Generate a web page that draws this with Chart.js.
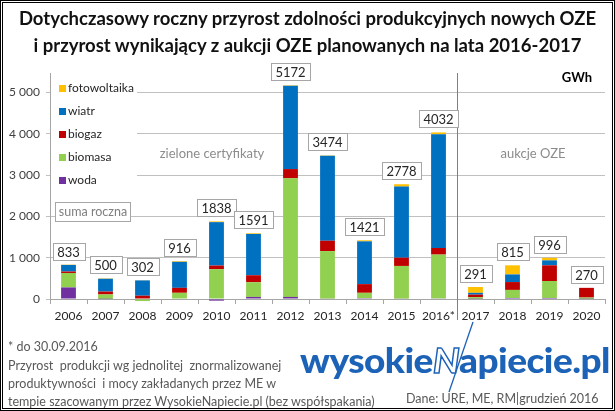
<!DOCTYPE html>
<html lang="pl">
<head>
<meta charset="utf-8">
<title>Przyrost OZE</title>
<script src="https://cdn.jsdelivr.net/npm/chart.js@4.4.0/dist/chart.umd.min.js"></script>
<style>
  html, body { margin: 0; padding: 0; background: #fff; }
  #wrap { position: relative; width: 615px; height: 411px; overflow: hidden; font-family: Lato, "Open Sans", sans-serif; }
  #chart { position: absolute; left: 0; top: 0; }
  .title { position: absolute; left: 0; width: 615px; text-align: center; font-weight: bold; font-size: 18.5px; line-height: 26px; color: #111; white-space: nowrap; }
  .note { position: absolute; left: 8px; font-size: 12.5px; line-height: 18px; color: #595959; white-space: nowrap; }
  #source { position: absolute; left: 406px; top: 390px; font-size: 12.5px; line-height: 18px; color: #595959; white-space: nowrap; }
  #logo { position: absolute; left: 300px; top: 339px; font-size: 35px; line-height: 40px; font-weight: 900; color: #1c62b6; white-space: nowrap; transform-origin: 0 0; letter-spacing: -0.5px; }
  #logo .n { color: #fff; -webkit-text-stroke: 1.4px #1c62b6; font-style: italic; }
  #bolt { position: absolute; left: 0; top: 0; }
  #frame { position: absolute; left: 0; top: 0; width: 615px; height: 411px; box-sizing: border-box; border: 3px double #000; pointer-events: none; }
</style>
</head>
<body>
<div id="wrap">
  <canvas id="chart" width="615" height="411"></canvas>
  <div class="title" style="top:5px">Dotychczasowy roczny przyrost zdolności produkcyjnych nowych OZE</div>
  <div class="title" style="top:32px">i przyrost wynikający z aukcji OZE planowanych na lata 2016-2017</div>
  <div class="note" style="top:338px">* do 30.09.2016</div>
  <div class="note" style="top:357px">Przyrost&nbsp; produkcji wg jednolitej&nbsp; znormalizowanej</div>
  <div class="note" style="top:375px">produktywności&nbsp; i mocy zakładanych przez ME w</div>
  <div class="note" style="top:393px">tempie szacowanym przez WysokieNapiecie.pl (bez współspakania)</div>
  <div id="source">Dane: URE, ME, RM|grudzień 2016</div>
  <div id="logo">wysokie<span class="n">N</span>apiecie.pl</div>
  <svg id="bolt" width="615" height="411"><line x1="473" y1="322" x2="449" y2="392" stroke="#1c62b6" stroke-width="1.3"/></svg>
  <div id="frame"></div>
</div>
<script>
// kategorie (lata)
const years = ['2006', '2007', '2008', '2009', '2010', '2011', '2012', '2013', '2014', '2015', '2016*', '2017', '2018', '2019', '2020'];

// przyrost wg technologii, GWh
const woda = [280, 5, 0, 0, -40, 50, 50, 10, 20, 10, 15, 5, 25, 25, 5];
const biomasa = [350, 105, -50, 150, 720, 355, 2870, 1150, 130, 790, 1060, 40, 195, 410, 30];
const biogaz = [35, 70, 80, 120, 90, 170, 225, 250, 210, 200, 160, 60, 190, 380, 235];
const wiatr = [160, 310, 370, 630, 1050, 1000, 2015, 2055, 1036, 1720, 2750, 45, 185, 120, 0];
const fotowoltaika = [8, 10, 5, 16, 18, 16, 12, 9, 25, 58, 47, 141, 220, 61, 0];

// suma roczna (etykiety)
const sumy = [833, 500, 302, 916, 1838, 1591, 5172, 3474, 1421, 2778, 4032, 291, 815, 996, 270];

// ticki osi Y
const yTicks = [0, 1000, 2000, 3000, 4000, 5000];

const FONT = 'Lato, "Open Sans", sans-serif';
const series = [woda, biomasa, biogaz, wiatr, fotowoltaika];

const overlay = {
    id: 'overlay',
    afterDatasetsDraw(chart) {
        const { ctx, chartArea: a, scales: { x, y } } = chart;
        ctx.save();

        // separator zielone certyfikaty / aukcje
        const xd = Math.round((x.getPixelForValue(10) + x.getPixelForValue(11)) / 2) + 0.5;
        ctx.strokeStyle = '#808080';
        ctx.lineWidth = 1;
        ctx.beginPath();
        ctx.moveTo(xd, a.top);
        ctx.lineTo(xd, 320);
        ctx.stroke();

        // legenda (biale tlo zaslania siatke)
        ctx.fillStyle = '#fff';
        ctx.fillRect(a.left + 1, a.top + 1, 86, 118);
        ctx.font = '12px ' + FONT;
        ctx.textAlign = 'left';
        ctx.textBaseline = 'middle';
        chart.data.datasets.slice().reverse().forEach((ds, k) => {
            const cy = 88 + k * 23.1;
            ctx.fillStyle = ds.backgroundColor;
            ctx.fillRect(59, Math.round(cy - 3.5), 7, 7);
            ctx.fillStyle = '#262626';
            ctx.fillText(ds.label, 68, cy);
        });

        // ramka "suma roczna"
        ctx.fillStyle = '#fff';
        ctx.fillRect(55, 202, 75, 19);
        ctx.strokeStyle = '#a6a6a6';
        ctx.strokeRect(55.5, 202.5, 75, 19);
        ctx.fillStyle = '#7f7f7f';
        ctx.font = '12.5px ' + FONT;
        ctx.textAlign = 'center';
        ctx.fillText('suma roczna', 93, 212);

        // opisy obszarow
        ctx.fillStyle = '#8c8c8c';
        ctx.font = '13px ' + FONT;
        ctx.fillText('zielone certyfikaty', 212, 154);
        ctx.fillText('aukcje OZE', 533, 154);
        ctx.fillStyle = '#000';
        ctx.font = 'bold 13px ' + FONT;
        ctx.fillText('GWh', 577, 78);

        // etykiety sum nad slupkami
        ctx.font = '13px ' + FONT;
        sumy.forEach((s, i) => {
            const top = series.reduce((acc, arr) => acc + Math.max(arr[i], 0), 0);
            const yp = y.getPixelForValue(top);
            const cx = x.getPixelForValue(i);
            const txt = String(s);
            const w = Math.round(ctx.measureText(txt).width + 9);
            const h = 17;
            const bx = Math.round(cx - w / 2) + 0.5;
            const by = Math.round(yp - 5 - h) + 0.5;
            ctx.fillStyle = '#fff';
            ctx.fillRect(bx, by, w, h);
            ctx.strokeStyle = '#a6a6a6';
            ctx.strokeRect(bx, by, w, h);
            ctx.fillStyle = '#262626';
            ctx.fillText(txt, cx, by + h / 2 + 0.5);
        });

        ctx.restore();
    }
};

function makeSet(label, data, color) {
    return {
        label: label,
        data: data,
        backgroundColor: color,
        borderWidth: 0,
        categoryPercentage: 1,
        barPercentage: 0.4,
        clip: false
    };
}

function initChart() {
    const ctx = document.getElementById('chart').getContext('2d');
    new Chart(ctx, {
        type: 'bar',
        data: {
            labels: years,
            datasets: [
                makeSet('woda', woda, '#7030A0'),
                makeSet('biomasa', biomasa, '#92D050'),
                makeSet('biogaz', biogaz, '#C00000'),
                makeSet('wiatr', wiatr, '#0070C0'),
                makeSet('fotowoltaika', fotowoltaika, '#FFC000')
            ]
        },
        options: {
            responsive: false,
            animation: false,
            devicePixelRatio: 1,
            layout: { padding: { left: 0, right: 10, top: 73, bottom: 0 } },
            plugins: { legend: { display: false }, title: { display: false }, tooltip: { enabled: false } },
            scales: {
                x: {
                    stacked: true,
                    afterFit: s => { s.height = 112; },
                    grid: { offset: true, drawOnChartArea: false, drawTicks: true, tickLength: 5, color: '#a6a6a6' },
                    border: { color: '#a6a6a6' },
                    ticks: { color: '#262626', font: { family: FONT, size: 12 }, padding: 5, maxRotation: 0, autoSkip: false }
                },
                y: {
                    stacked: true,
                    min: 0,
                    max: 5470,
                    afterFit: s => { s.width = 50; },
                    afterBuildTicks: s => { s.ticks = yTicks.map(v => ({ value: v })); },
                    grid: { color: '#c0c0c0', tickLength: 4 },
                    border: { color: '#a6a6a6' },
                    ticks: {
                        color: '#404040',
                        font: { family: FONT, size: 12 },
                        padding: 6,
                        callback: v => v === 0 ? '0' : String(v).replace(/\B(?=(\d{3})+(?!\d))/g, ' ')
                    }
                }
            }
        },
        plugins: [overlay]
    });

    // dopasowanie szerokosci logo
    const logo = document.getElementById('logo');
    const k = 310 / logo.getBoundingClientRect().width;
    logo.style.transform = 'scale(' + k.toFixed(3) + ', 1)';
}

document.addEventListener('DOMContentLoaded', initChart);
</script>
</body>
</html>
